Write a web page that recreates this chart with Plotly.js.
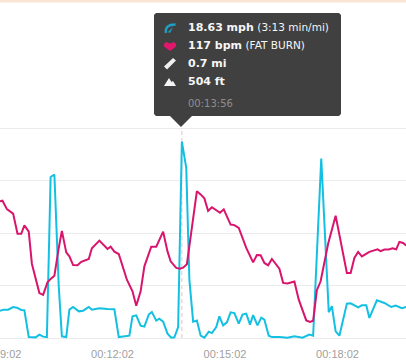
<!DOCTYPE html>
<html><head><meta charset="utf-8">
<script src="https://cdn.plot.ly/plotly-3.0.0.min.js"></script>
<style>html,body{margin:0;padding:0;background:#fff;overflow:hidden}#c{width:406px;height:364px}</style>
</head><body><div id="c"></div>
<script>
const hrTime=[542,546,553,558,563,570,576,581,588,593,605,611,618,623,629,636,641,648,653,659,666,672,684,689,701,714,719,725,732,745,754,760,767,773,784,792,803,810,815,824,830,835,841,850,857,863,869,875,881,894,900,911,917,924,936,947,953,959,965,971,977,989,995,1002,1013,1020,1032,1038,1043,1049,1055,1067,1079,1097,1103,1109,1115,1121,1133,1146,1151,1157,1164,1170,1176,1181,1187,1192];
const heartRate=[143.1,143.3,140.1,139.1,138.4,130.7,130.7,133.9,131.5,119.3,108.1,107.4,112.2,113.5,114.7,125.3,131.8,123.6,122.1,118.8,118.7,120,121.1,125.2,128.1,124.9,125.8,123.9,123,113.2,108.8,103.3,108.8,118.3,125.8,125.8,131.5,124,120.2,117.7,117.4,117.8,119.1,134.8,146.9,145.7,144.2,139.4,140.8,138.7,140,134.2,134,132.9,125.3,119.8,122.6,122.5,119.6,118.7,121.1,117.4,112,111.8,112.5,105.6,97.7,97.1,97.6,109.2,112.6,126.9,137.6,115.8,115.8,121.5,123.8,122.1,123.8,124.8,124.1,124.7,124.7,125.2,124.8,127.6,127.2,126.2];
const speedTime=[542,548,555,563,569,576,581,588,599,605,611,617,623,629,636,641,648,653,659,668,675,684,689,701,714,725,732,749,754,760,767,773,780,785,792,797,803,810,816,821,827,833,840,845,851,857,863,869,876,881,888,893,899,905,911,917,924,930,936,942,947,954,960,965,972,977,989,1002,1013,1026,1037,1043,1056,1068,1073,1079,1085,1097,1103,1115,1121,1128,1133,1145,1157,1168,1175,1185,1192];
const speed=[2.59,2.69,2.69,2.94,2.88,2.66,2.63,0.09,0.06,0.32,0.13,0.09,15.28,15.51,4.91,0.16,0.09,2.69,2.94,2.53,2.59,2.94,2.69,2.82,2.75,2.72,0.09,0.22,2.06,2.15,1.17,1.08,2.22,2.47,1.65,1.84,1.55,0.41,0.03,0.06,1.04,18.63,16.14,5.54,1.55,1.65,0.22,0.03,0.6,0.47,1.04,2.06,1.2,1.49,2.44,2.37,1.36,2.22,2.31,1.27,2.18,1.2,1.93,1.74,0.22,0.09,0.09,0.03,0.16,0.03,0.32,0.22,17.03,2.44,3.01,0.63,0.22,3.26,3.29,2.91,3.1,3.1,1.9,3.58,3.32,2.94,3.07,2.82,2.94];
const tickSeconds=[542,722,902,1082];
const tickLabels=["00:09:02","00:12:02","00:15:02","00:18:02"];
const hoverTime=833;
const gridBpm=[91,111,131,151,171];
const tipRows=[
 "<b>18.63 mph</b> <span style='font-size:10.5px'>(3:13 min/mi)</span>",
 "<b>117 bpm</b> <span style='font-size:10.5px'>(FAT BURN)</span>",
 "<b>0.7 mi</b>",
 "<b>504 ft</b>"];
const tipTime="00:13:56";

const W=406,T=126,B=340,H=B-T;
const fx=x=>(x/W).toFixed(5), fy=y=>((B-y)/H).toFixed(5);
const path=pts=>pts.map((p,i)=>(i?'L':'M')+fx(p[0])+','+fy(p[1])).join(' ')+' Z';
const poly=(pts,fill)=>({type:'path',xref:'paper',yref:'paper',path:path(pts),fillcolor:fill,line:{width:0},layer:'above'});

const shapes=[
 poly([[0,0],[406,0],[406,2.5],[0,2.5]],'#fbe6d6'),
 {type:'line',xref:'x',yref:'y2',x0:hoverTime,x1:hoverTime,y0:91,y1:171,line:{color:'#e3c4cf',width:1,dash:'4px,3px'},layer:'below'},
 poly([[156,13],[339,13],[341,15],[341,114],[339,116],[192,116],[181,127],[170,116],[156,116],[154,114],[154,15]],'#404040'),
 {type:'path',xref:'paper',yref:'paper',layer:'above',fillcolor:'rgba(0,0,0,0)',line:{color:'#1f9fc4',width:2.5},
  path:'M'+fx(166)+','+fy(33)+' Q'+fx(164.5)+','+fy(24.5)+' '+fx(175.5)+','+fy(24.5)},
 poly([[168,32],[173,27],[170,33]],'#1f9fc4'),
 poly([[164,44],[166,42],[170,43.5],[174,42],[176,44],[176,46.5],[170,51],[164,46.5]],'#e0176c'),
 poly([[164,66.5],[173,58],[176,60.5],[167,69.5]],'#f0f0f0'),
 poly([[164,86],[169,78],[171.5,82],[173,81],[176,86]],'#f4f4f4')
];

const rowY=[27.5,45.5,63.5,81.5];
const annotations=tipRows.map((t,i)=>({xref:'paper',yref:'paper',x:186.5/W,y:(B-rowY[i])/H,xanchor:'left',yanchor:'middle',showarrow:false,align:'left',text:t,borderpad:0,
  font:{family:'DejaVu Sans, Verdana, sans-serif',size:11,color:'#f6f6f6'}}));
annotations.push({xref:'paper',yref:'paper',x:186.5/W,y:(B-103)/H,xanchor:'left',yanchor:'middle',showarrow:false,text:tipTime,borderpad:0,
  font:{family:'DejaVu Sans, Verdana, sans-serif',size:10,color:'#8f8f8f'}});

Plotly.newPlot('c',[
 {x:hrTime,y:heartRate,yaxis:'y2',mode:'lines',line:{color:'#d9146c',width:2},hoverinfo:'skip',name:'Heart rate'},
 {x:speedTime,y:speed,mode:'lines',line:{color:'#13c0e2',width:2},hoverinfo:'skip',name:'Speed'}
],{
 width:406,height:364,margin:{l:0,r:0,t:T,b:364-B,pad:0},paper_bgcolor:'#fff',plot_bgcolor:'#fff',showlegend:false,
 xaxis:{range:[542,1191.6],tickmode:'array',tickvals:tickSeconds,ticktext:tickLabels,showgrid:false,zeroline:false,showline:false,ticks:'outside',ticklen:4,tickcolor:'rgba(0,0,0,0)',
   ticklabeloverflow:'allow',tickangle:0,tickfont:{family:'Liberation Sans, Arial, sans-serif',size:11,color:'#a0a0a0'}},
 yaxis:{range:[-2/10.54,212/10.54],showgrid:false,zeroline:false,showticklabels:false,ticks:'',showline:false},
 yaxis2:{range:[91-2/2.625,171+2/2.625],overlaying:'y',side:'right',tickmode:'array',tickvals:gridBpm,showgrid:true,gridcolor:'#ebebeb',gridwidth:1,zeroline:false,showticklabels:false,ticks:'',showline:false},
 shapes,annotations
},{staticPlot:true,displayModeBar:false});
</script></body></html>
